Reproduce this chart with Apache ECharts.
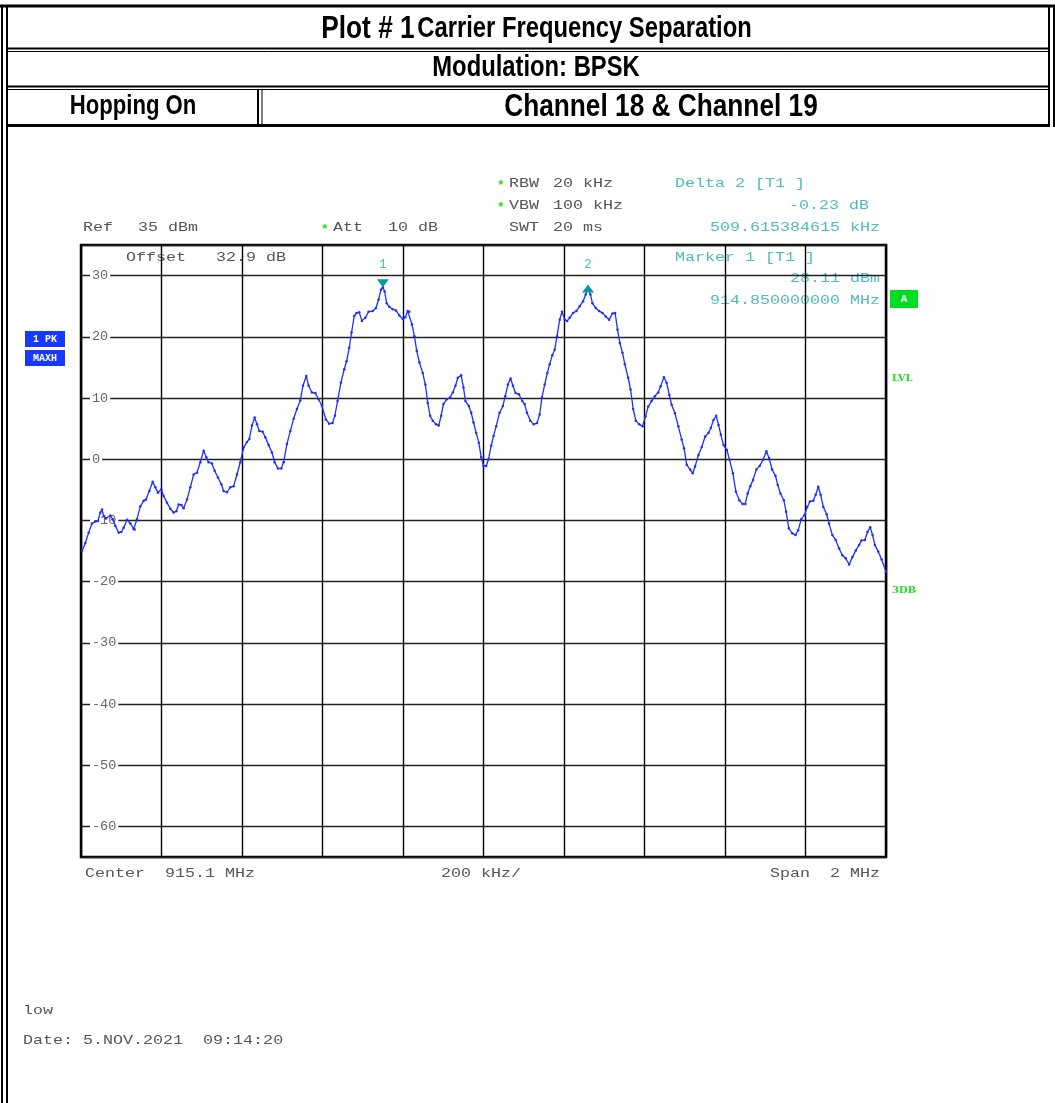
<!DOCTYPE html>
<html>
<head>
<meta charset="utf-8">
<script src="https://cdn.jsdelivr.net/npm/echarts@6/dist/echarts.min.js"></script>
<style>
  html, body { margin: 0; padding: 0; background: #fff; }
  #chart { width: 1055px; height: 1103px; }
</style>
</head>
<body>
<div id="chart"></div>
<script>
// trace (MHz / dBm)
const freqMHz = [
  914.1025, 914.1108, 914.119, 914.1273, 914.1356, 914.1422, 914.148, 914.1522, 914.1563, 914.1621,
  914.1729, 914.1787, 914.1853, 914.1936, 914.2002, 914.206, 914.2143, 914.2225, 914.2308, 914.2333,
  914.2391, 914.2474, 914.2557, 914.2615, 914.2697, 914.278, 914.2846, 914.2913, 914.2995, 914.3053,
  914.3136, 914.3219, 914.3302, 914.3368, 914.3426, 914.3492, 914.355, 914.3633, 914.3716, 914.3799,
  914.3881, 914.3964, 914.4047, 914.4113, 914.4171, 914.4254, 914.432, 914.4403, 914.4486, 914.4544,
  914.4627, 914.4709, 914.4792, 914.4875, 914.4958, 914.5041, 914.5123, 914.5181, 914.5248, 914.5314,
  914.5372, 914.543, 914.5513, 914.5579, 914.5662, 914.5744, 914.5811, 914.5893, 914.5976, 914.6034,
  914.6117, 914.62, 914.6283, 914.6365, 914.6448, 914.6514, 914.6597, 914.6655, 914.6738, 914.6821,
  914.6904, 914.6986, 914.7083, 914.7166, 914.7249, 914.7307, 914.7374, 914.7457, 914.754, 914.7598,
  914.7664, 914.7722, 914.7789, 914.7847, 914.7913, 914.7979, 914.8062, 914.8145, 914.8245, 914.8328,
  914.8394, 914.8453, 914.85, 914.8544, 914.8594, 914.866, 914.8743, 914.8826, 914.8909, 914.8992,
  914.9058, 914.9117, 914.9158, 914.9224, 914.9283, 914.9341, 914.9407, 914.949, 914.9556, 914.9615,
  914.9673, 914.9739, 914.9822, 914.9888, 914.9947, 915.0005, 915.0088, 915.0171, 915.0237, 915.0303,
  915.0362, 915.0445, 915.0503, 915.0552, 915.0635, 915.0694, 915.0752, 915.0818, 915.0884, 915.0943,
  915.1001, 915.1067, 915.1125, 915.1192, 915.125, 915.1316, 915.1399, 915.1482, 915.154, 915.1607,
  915.1673, 915.1731, 915.1797, 915.188, 915.1963, 915.2022, 915.208, 915.2163, 915.2246, 915.2329,
  915.2395, 915.2453, 915.252, 915.2586, 915.2644, 915.271, 915.2769, 915.2827, 915.2893, 915.2951,
  915.3018, 915.3076, 915.3142, 915.3225, 915.3308, 915.3391, 915.3474, 915.354, 915.3596, 915.3657,
  915.3706, 915.3789, 915.3872, 915.3955, 915.4038, 915.4121, 915.4204, 915.427, 915.4329, 915.4387,
  915.4453, 915.4512, 915.4595, 915.4653, 915.4719, 915.4785, 915.4868, 915.4951, 915.5025, 915.5092,
  915.5175, 915.5258, 915.5341, 915.54, 915.5483, 915.5549, 915.5616, 915.5674, 915.5757, 915.584,
  915.5924, 915.5982, 915.6048, 915.6132, 915.6198, 915.6256, 915.634, 915.6423, 915.6506, 915.6589,
  915.6647, 915.6714, 915.678, 915.6839, 915.6897, 915.6964, 915.7047, 915.7113, 915.7196, 915.7271,
  915.7355, 915.7438, 915.7504, 915.7563, 915.7629, 915.7696, 915.7779, 915.7862, 915.7945, 915.8028,
  915.8095, 915.817, 915.8253, 915.8311, 915.8378, 915.8461, 915.8519, 915.8586, 915.8669, 915.8752,
  915.8819, 915.8894, 915.8977, 915.9044, 915.911, 915.9193, 915.9252, 915.9318, 915.9376, 915.9443,
  915.9526, 915.9584, 915.9668, 915.9751, 915.9834, 915.9917, 916.0, 916.0084, 916.0167, 916.025,
  916.0333, 916.0391, 916.0475, 916.0541, 916.0608, 916.0666, 916.0724, 916.0807, 916.0891, 916.1
];
const levelDbm = [
  -15.0, -13.7, -12.0, -10.5, -10.2, -10.1, -8.7, -8.2, -9.3, -9.7,
  -9.2, -9.8, -10.9, -12.0, -11.9, -11.2, -9.9, -10.5, -11.4, -11.5,
  -9.8, -7.7, -6.8, -6.6, -5.2, -3.7, -4.6, -5.5, -4.9, -6.0,
  -7.1, -8.1, -8.7, -8.5, -7.4, -7.5, -8.0, -6.6, -4.6, -2.5,
  -2.2, -0.5, 1.4, 0.3, -0.5, -0.7, -1.9, -3.0, -4.1, -5.2,
  -5.4, -4.6, -4.4, -2.5, -0.5, 1.9, 2.8, 3.3, 5.5, 6.8,
  5.7, 4.6, 4.5, 3.6, 2.3, 1.1, -0.5, -1.5, -1.5, -0.5,
  2.5, 4.6, 6.6, 8.2, 9.6, 12.0, 13.6, 12.0, 10.9, 10.8,
  9.8, 8.7, 6.5, 5.8, 5.9, 7.1, 9.5, 12.5, 14.7, 16.0,
  18.2, 20.7, 23.4, 23.9, 24.0, 22.6, 23.1, 24.1, 24.2, 24.7,
  26.1, 27.7, 28.11, 27.4, 25.5, 24.9, 24.5, 24.3, 23.5, 22.9,
  23.2, 24.2, 24.1, 22.0, 20.1, 17.7, 15.8, 14.1, 12.2, 9.2,
  7.1, 6.3, 5.7, 5.5, 7.1, 9.0, 9.8, 10.1, 10.9, 12.0,
  13.3, 13.7, 11.7, 9.5, 8.7, 7.6, 6.0, 4.3, 2.7, 0.3,
  -1.1, -1.1, 0.0, 2.2, 3.8, 5.4, 7.6, 8.7, 10.3, 12.2,
  13.2, 12.0, 10.8, 10.6, 9.5, 9.0, 7.6, 6.3, 5.7, 5.9,
  7.3, 10.1, 12.2, 14.1, 15.5, 17.0, 17.9, 20.1, 22.8, 24.1,
  22.8, 22.6, 23.1, 23.9, 24.2, 25.0, 25.8, 26.9, 27.88, 26.9,
  25.5, 24.7, 24.2, 23.9, 23.3, 22.8, 23.8, 23.9, 21.2, 19.0,
  17.4, 15.5, 13.3, 11.4, 8.2, 6.3, 5.7, 5.4, 7.0, 8.6,
  9.5, 10.3, 10.9, 11.9, 13.4, 12.5, 10.5, 8.9, 7.5, 5.4,
  3.2, 1.8, -0.9, -1.7, -2.3, -1.2, 0.7, 2.0, 3.7, 4.3,
  5.1, 6.4, 7.1, 5.6, 4.0, 2.3, 1.5, -0.1, -2.3, -5.3,
  -6.7, -7.3, -7.3, -5.6, -4.4, -3.4, -1.7, -1.1, -0.1, 1.3,
  0.2, -1.7, -2.7, -4.2, -5.6, -6.7, -8.6, -11.3, -12.1, -12.4,
  -11.6, -9.8, -9.1, -7.8, -6.9, -6.8, -5.8, -4.5, -5.8, -7.8,
  -9.0, -10.5, -12.4, -13.2, -14.6, -15.7, -16.2, -17.2, -16.0, -14.9,
  -14.0, -13.3, -13.2, -11.9, -11.1, -12.4, -14.0, -15.1, -16.4, -18.4
];
// markers: name, frequency (MHz), level (dBm)
const markerNames = ['1', '2'];
const markerFreq = [914.85, 915.3596];
const markerLevel = [28.11, 27.88];

const chart = echarts.init(document.getElementById('chart'));

const MONO = '"Liberation Mono", "Courier New", monospace';
const SANS = '"Liberation Sans", Arial, sans-serif';
const GRAY = '#555';
const TEAL = '#4fbcbc';
const GREEN = '#22dd22';

// monospace text stretched a bit, like the analyzer font
function t(x, y, text, color, align) {
  return {
    type: 'text', x: x, y: y, scaleX: 1.235, z: -1,
    style: { text: text, font: '13.5px ' + MONO, fill: color || GRAY, align: align || 'left', verticalAlign: 'middle' }
  };
}
function star(x, y) {
  return { type: 'text', x: x, y: y + 3, z: -1,
    style: { text: '*', font: 'bold 13px ' + MONO, fill: GREEN, align: 'left', verticalAlign: 'middle' } };
}
// bold sans squeezed to look like a narrow face
function head(x, y, text, size) {
  return { type: 'text', x: x, y: y, scaleX: 0.82,
    style: { text: text, font: 'bold ' + size + 'px ' + SANS, fill: '#000', align: 'center', verticalAlign: 'middle' } };
}
function hline(x1, x2, y, w) {
  return { type: 'line', shape: { x1: x1, y1: y, x2: x2, y2: y }, style: { stroke: '#000', lineWidth: w } };
}
function vline(x, y1, y2, w) {
  return { type: 'line', shape: { x1: x, y1: y1, x2: x, y2: y2 }, style: { stroke: '#000', lineWidth: w } };
}
function box(x, y, w, h, color, text, fs) {
  return {
    type: 'rect', shape: { x: x, y: y, width: w, height: h }, style: { fill: color },
    textContent: { style: { text: text, fill: '#fff', font: 'bold ' + fs + 'px ' + MONO } },
    textConfig: { position: 'inside' }
  };
}

const tableGraphics = [
  // outer frame
  hline(0, 1055, 6, 3),
  vline(2, 5, 1103, 2),
  vline(7, 5, 1103, 2),
  vline(1049, 5, 127, 2),
  vline(1054, 5, 127, 2),
  // row separators
  hline(7, 1050, 48.5, 2),
  hline(7, 1050, 51.5, 1),
  hline(7, 1050, 86.5, 2),
  hline(7, 1050, 89.5, 1),
  hline(7, 1050, 125.5, 3),
  vline(258, 89, 124, 2),
  vline(262, 89, 124, 1),
  // header texts
  {
    type: 'text', x: 536.5, y: 29, scaleX: 0.82,
    style: {
      text: '{a|Plot # 1} {b|Carrier Frequency Separation}',
      align: 'center', verticalAlign: 'middle',
      rich: {
        a: { font: 'bold 32px ' + SANS, fill: '#000' },
        b: { font: 'bold 29px ' + SANS, fill: '#000' }
      }
    }
  },
  head(536, 68, 'Modulation: BPSK', 29),
  head(133, 107, 'Hopping On', 27),
  head(661, 107, 'Channel 18 & Channel 19', 32)
];

const instrumentText = [
  t(83, 227, 'Ref'), t(138, 227, '35 dBm'),
  star(321, 227), t(333, 227, 'Att'), t(388, 227, '10 dB'),
  star(497, 183), t(509, 183, 'RBW'), t(553, 183, '20 kHz'),
  star(497, 205), t(509, 205, 'VBW'), t(553, 205, '100 kHz'),
  t(509, 227, 'SWT'), t(553, 227, '20 ms'),
  t(675, 183, 'Delta 2 [T1 ]', TEAL),
  t(869, 205, '-0.23 dB', TEAL, 'right'),
  t(880, 227, '509.615384615 kHz', TEAL, 'right'),
  t(675, 257, 'Marker 1 [T1 ]', TEAL),
  t(880, 278, '28.11 dBm', TEAL, 'right'),
  t(880, 300, '914.850000000 MHz', TEAL, 'right'),
  t(126, 257, 'Offset'), t(216, 257, '32.9 dB'),
  t(85, 873, 'Center  915.1 MHz'),
  t(441, 873, '200 kHz/'),
  t(880, 873, 'Span  2 MHz', GRAY, 'right'),
  t(23, 1010, 'low'),
  t(23, 1040, 'Date: 5.NOV.2021  09:14:20'),
  box(25, 331, 40, 16, '#1638ff', '1 PK', 10),
  box(25, 350, 40, 16, '#1638ff', 'MAXH', 10),
  box(890, 290, 28, 18, '#00dd22', 'A', 11),
  { type: 'text', x: 892, y: 378, style: { text: 'LVL', font: 'bold 10px "DejaVu Serif", serif', fill: GREEN, verticalAlign: 'middle' } },
  { type: 'text', x: 892, y: 590, style: { text: '3DB', font: 'bold 10px "DejaVu Serif", serif', fill: GREEN, verticalAlign: 'middle' } }
];

const option = {
  animation: false,
  backgroundColor: '#fff',
  grid: {
    left: 81, right: 169, top: 245, bottom: 246,
    show: true, borderColor: '#000', borderWidth: 2.5, backgroundColor: 'transparent'
  },
  xAxis: {
    type: 'value', min: 914.1, max: 916.1, interval: 0.2,
    axisLine: { show: false }, axisTick: { show: false }, axisLabel: { show: false },
    splitLine: { show: true, lineStyle: { color: '#000', width: 1.4 } }
  },
  yAxis: {
    type: 'value', min: -65, max: 35, splitNumber: 10,
    axisLine: { show: false }, axisTick: { show: false },
    axisLabel: {
      inside: true, margin: 9, showMinLabel: false, showMaxLabel: false,
      color: '#666', fontFamily: 'Liberation Mono', fontSize: 13.5,
      backgroundColor: '#fff', padding: [0, 2, 0, 2]
    },
    splitLine: { show: true, lineStyle: { color: '#222', width: 1.4 } }
  },
  graphic: tableGraphics.concat(instrumentText),
  series: [{
    type: 'line',
    data: freqMHz.map((f, i) => [f, levelDbm[i]]),
    showSymbol: true, showAllSymbol: true,
    symbol: 'circle', symbolSize: 2.5,
    lineStyle: { color: '#1d2eff', width: 1.3 },
    itemStyle: { color: '#1d2eff' },
    z: 3,
    markPoint: {
      symbol: 'triangle',
      label: { show: true, position: 'top', color: TEAL, fontFamily: 'Liberation Mono', fontSize: 13, formatter: '{b}' },
      itemStyle: { color: '#079a9a' },
      data: [
        { name: markerNames[0], coord: [markerFreq[0], markerLevel[0]], symbolSize: [12, 8], symbolRotate: 180, symbolOffset: [0, -4], label: { distance: 8 } },
        { name: markerNames[1], coord: [markerFreq[1], markerLevel[1]], symbolSize: [12, 8], symbolOffset: [0, 0], label: { distance: 14 } }
      ]
    }
  }]
};

chart.setOption(option);
</script>
</body>
</html>
